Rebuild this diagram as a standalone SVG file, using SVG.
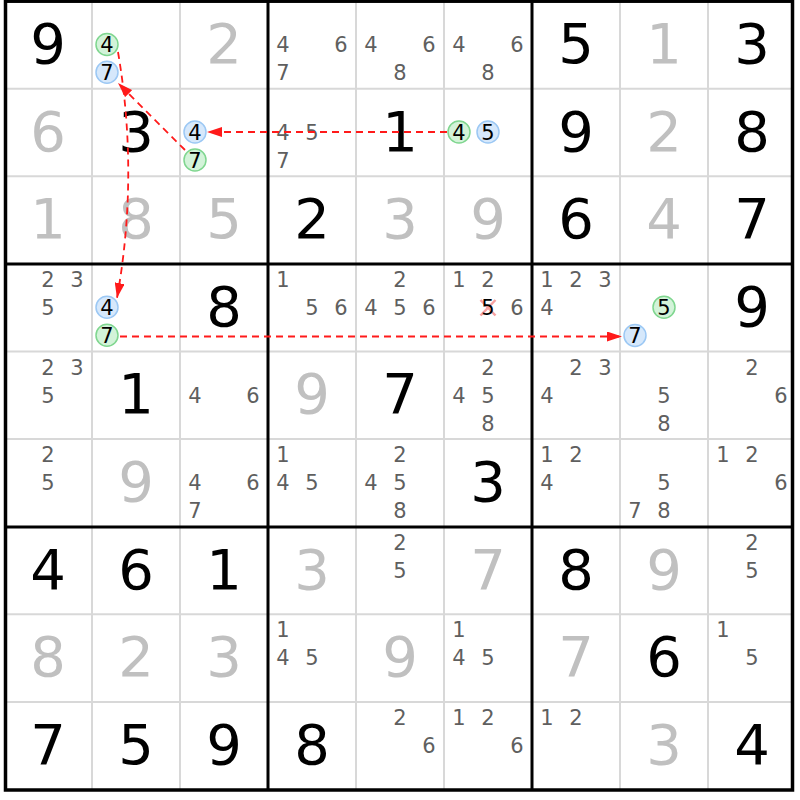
<svg xmlns="http://www.w3.org/2000/svg" width="800" height="800" viewBox="0 0 800 800">
<defs>
<style>
text{font-family:"DejaVu Sans","Liberation Sans",sans-serif;text-anchor:middle}
.b{font-size:56px;fill:#000}
.g{font-size:56px;fill:#c0c0c0}
.p{font-size:21px;fill:#5f5f5f}
.k{font-size:21px;fill:#000}
.thin{stroke:#d8d8d8;stroke-width:2}
.thick{stroke:#000;stroke-width:3}
.cg{fill:#d3f3d9;stroke:#7fd68f;stroke-width:1.5}
.cb{fill:#d6e8fb;stroke:#9cc8f4;stroke-width:1.5}
.ln{fill:none;stroke:#ff1a1a;stroke-width:1.8;stroke-dasharray:7 5}
</style>
<marker id="ah" markerWidth="15" markerHeight="10" refX="15" refY="5" orient="auto" markerUnits="userSpaceOnUse"><path d="M0,0 L15,5 L0,10 z" fill="#ff1a1a"/></marker>
</defs>
<rect width="800" height="800" fill="#fff"/>
<g id="grid">
<g class="thin">
<line x1="92" y1="1" x2="92" y2="790"/><line x1="180" y1="1" x2="180" y2="790"/>
<line x1="356" y1="1" x2="356" y2="790"/><line x1="444" y1="1" x2="444" y2="790"/>
<line x1="620" y1="1" x2="620" y2="790"/><line x1="708" y1="1" x2="708" y2="790"/>
<line x1="5" y1="88.7" x2="793" y2="88.7"/><line x1="5" y1="176.3" x2="793" y2="176.3"/>
<line x1="5" y1="351.5" x2="793" y2="351.5"/><line x1="5" y1="439.1" x2="793" y2="439.1"/>
<line x1="5" y1="614.3" x2="793" y2="614.3"/><line x1="5" y1="701.9" x2="793" y2="701.9"/>
</g>
<g class="thick">
<line x1="268" y1="1" x2="268" y2="790"/><line x1="532" y1="1" x2="532" y2="790"/>
<line x1="5" y1="263.9" x2="793" y2="263.9"/><line x1="5" y1="527.1" x2="793" y2="527.1"/>
</g>
<rect x="5.5" y="1.2" width="787" height="788.8" fill="none" stroke="#000" stroke-width="3.5"/>
</g>
<g id="cells">
<!-- row 0 -->
<g id="r0c0"><text class="b" x="48" y="62.9">9</text></g>
<g id="r0c1"><circle class="cg" cx="107" cy="44.5" r="11"/><text class="k" x="107" y="52">4</text><circle class="cb" cx="107" cy="72.3" r="11"/><text class="k" x="107" y="80">7</text></g>
<g id="r0c2"><text class="g" x="224" y="62.9">2</text></g>
<g id="r0c3"><text class="p" x="283" y="52.2">4</text><text class="p" x="341" y="52.2">6</text><text class="p" x="283" y="80.2">7</text></g>
<g id="r0c4"><text class="p" x="371" y="52.2">4</text><text class="p" x="429" y="52.2">6</text><text class="p" x="400" y="80.2">8</text></g>
<g id="r0c5"><text class="p" x="459" y="52.2">4</text><text class="p" x="517" y="52.2">6</text><text class="p" x="488" y="80.2">8</text></g>
<g id="r0c6"><text class="b" x="576" y="62.9">5</text></g>
<g id="r0c7"><text class="g" x="664" y="62.9">1</text></g>
<g id="r0c8"><text class="b" x="752" y="62.9">3</text></g>
<!-- row 1 -->
<g id="r1c0"><text class="g" x="48" y="150.5">6</text></g>
<g id="r1c1"><text class="b" x="136" y="150.5">3</text></g>
<g id="r1c2"><circle class="cb" cx="195" cy="132" r="11"/><text class="k" x="195" y="139.6">4</text><circle class="cg" cx="195" cy="160" r="11"/><text class="k" x="195" y="167.6">7</text></g>
<g id="r1c3"><text class="p" x="283" y="139.8">4</text><text class="p" x="312" y="139.8">5</text><text class="p" x="283" y="167.8">7</text></g>
<g id="r1c4"><text class="b" x="400" y="150.5">1</text></g>
<g id="r1c5"><circle class="cg" cx="459" cy="132" r="11"/><text class="k" x="459" y="139.6">4</text><circle class="cb" cx="488" cy="132" r="11"/><text class="k" x="488" y="139.6">5</text></g>
<g id="r1c6"><text class="b" x="576" y="150.5">9</text></g>
<g id="r1c7"><text class="g" x="664" y="150.5">2</text></g>
<g id="r1c8"><text class="b" x="752" y="150.5">8</text></g>
<!-- row 2 -->
<g id="r2c0"><text class="g" x="48" y="238.1">1</text></g>
<g id="r2c1"><text class="g" x="136" y="238.1">8</text></g>
<g id="r2c2"><text class="g" x="224" y="238.1">5</text></g>
<g id="r2c3"><text class="b" x="312" y="238.1">2</text></g>
<g id="r2c4"><text class="g" x="400" y="238.1">3</text></g>
<g id="r2c5"><text class="g" x="488" y="238.1">9</text></g>
<g id="r2c6"><text class="b" x="576" y="238.1">6</text></g>
<g id="r2c7"><text class="g" x="664" y="238.1">4</text></g>
<g id="r2c8"><text class="b" x="752" y="238.1">7</text></g>
<!-- row 3 -->
<g id="r3c0"><text class="p" x="48" y="287">2</text><text class="p" x="77" y="287">3</text><text class="p" x="48" y="315">5</text></g>
<g id="r3c1"><circle class="cb" cx="107" cy="307.3" r="11"/><text class="k" x="107" y="314.8">4</text><circle class="cg" cx="107" cy="335.3" r="11"/><text class="k" x="107" y="342.8">7</text></g>
<g id="r3c2"><text class="b" x="224" y="325.7">8</text></g>
<g id="r3c3"><text class="p" x="283" y="287">1</text><text class="p" x="312" y="315">5</text><text class="p" x="341" y="315">6</text></g>
<g id="r3c4"><text class="p" x="400" y="287">2</text><text class="p" x="371" y="315">4</text><text class="p" x="400" y="315">5</text><text class="p" x="429" y="315">6</text></g>
<g id="r3c5"><text class="p" x="459" y="287">1</text><text class="p" x="488" y="287">2</text><g stroke="#f7a0a0" stroke-width="2.5"><line x1="480.5" y1="300" x2="495.5" y2="315.5"/><line x1="495.5" y1="300" x2="480.5" y2="315.5"/></g><text class="k" x="488" y="315">5</text><text class="p" x="517" y="315">6</text></g>
<g id="r3c6"><text class="p" x="547" y="287">1</text><text class="p" x="576" y="287">2</text><text class="p" x="605" y="287">3</text><text class="p" x="547" y="315">4</text></g>
<g id="r3c7"><circle class="cg" cx="664" cy="307.3" r="11"/><text class="k" x="664" y="314.8">5</text><circle class="cb" cx="635" cy="335.5" r="11"/><text class="k" x="635" y="343">7</text></g>
<g id="r3c8"><text class="b" x="752" y="325.7">9</text></g>
<!-- row 4 -->
<g id="r4c0"><text class="p" x="48" y="374.6">2</text><text class="p" x="77" y="374.6">3</text><text class="p" x="48" y="402.6">5</text></g>
<g id="r4c1"><text class="b" x="136" y="413.3">1</text></g>
<g id="r4c2"><text class="p" x="195" y="402.6">4</text><text class="p" x="253" y="402.6">6</text></g>
<g id="r4c3"><text class="g" x="312" y="413.3">9</text></g>
<g id="r4c4"><text class="b" x="400" y="413.3">7</text></g>
<g id="r4c5"><text class="p" x="488" y="374.6">2</text><text class="p" x="459" y="402.6">4</text><text class="p" x="488" y="402.6">5</text><text class="p" x="488" y="430.6">8</text></g>
<g id="r4c6"><text class="p" x="576" y="374.6">2</text><text class="p" x="605" y="374.6">3</text><text class="p" x="547" y="402.6">4</text></g>
<g id="r4c7"><text class="p" x="664" y="402.6">5</text><text class="p" x="664" y="430.6">8</text></g>
<g id="r4c8"><text class="p" x="752" y="374.6">2</text><text class="p" x="781" y="402.6">6</text></g>
<!-- row 5 -->
<g id="r5c0"><text class="p" x="48" y="462.2">2</text><text class="p" x="48" y="490.2">5</text></g>
<g id="r5c1"><text class="g" x="136" y="500.9">9</text></g>
<g id="r5c2"><text class="p" x="195" y="490.2">4</text><text class="p" x="253" y="490.2">6</text><text class="p" x="195" y="518.2">7</text></g>
<g id="r5c3"><text class="p" x="283" y="462.2">1</text><text class="p" x="283" y="490.2">4</text><text class="p" x="312" y="490.2">5</text></g>
<g id="r5c4"><text class="p" x="400" y="462.2">2</text><text class="p" x="371" y="490.2">4</text><text class="p" x="400" y="490.2">5</text><text class="p" x="400" y="518.2">8</text></g>
<g id="r5c5"><text class="b" x="488" y="500.9">3</text></g>
<g id="r5c6"><text class="p" x="547" y="462.2">1</text><text class="p" x="576" y="462.2">2</text><text class="p" x="547" y="490.2">4</text></g>
<g id="r5c7"><text class="p" x="664" y="490.2">5</text><text class="p" x="635" y="518.2">7</text><text class="p" x="664" y="518.2">8</text></g>
<g id="r5c8"><text class="p" x="723" y="462.2">1</text><text class="p" x="752" y="462.2">2</text><text class="p" x="781" y="490.2">6</text></g>
<!-- row 6 -->
<g id="r6c0"><text class="b" x="48" y="588.5">4</text></g>
<g id="r6c1"><text class="b" x="136" y="588.5">6</text></g>
<g id="r6c2"><text class="b" x="224" y="588.5">1</text></g>
<g id="r6c3"><text class="g" x="312" y="588.5">3</text></g>
<g id="r6c4"><text class="p" x="400" y="549.8">2</text><text class="p" x="400" y="577.8">5</text></g>
<g id="r6c5"><text class="g" x="488" y="588.5">7</text></g>
<g id="r6c6"><text class="b" x="576" y="588.5">8</text></g>
<g id="r6c7"><text class="g" x="664" y="588.5">9</text></g>
<g id="r6c8"><text class="p" x="752" y="549.8">2</text><text class="p" x="752" y="577.8">5</text></g>
<!-- row 7 -->
<g id="r7c0"><text class="g" x="48" y="676.1">8</text></g>
<g id="r7c1"><text class="g" x="136" y="676.1">2</text></g>
<g id="r7c2"><text class="g" x="224" y="676.1">3</text></g>
<g id="r7c3"><text class="p" x="283" y="637.4">1</text><text class="p" x="283" y="665.4">4</text><text class="p" x="312" y="665.4">5</text></g>
<g id="r7c4"><text class="g" x="400" y="676.1">9</text></g>
<g id="r7c5"><text class="p" x="459" y="637.4">1</text><text class="p" x="459" y="665.4">4</text><text class="p" x="488" y="665.4">5</text></g>
<g id="r7c6"><text class="g" x="576" y="676.1">7</text></g>
<g id="r7c7"><text class="b" x="664" y="676.1">6</text></g>
<g id="r7c8"><text class="p" x="723" y="637.4">1</text><text class="p" x="752" y="665.4">5</text></g>
<!-- row 8 -->
<g id="r8c0"><text class="b" x="48" y="763.7">7</text></g>
<g id="r8c1"><text class="b" x="136" y="763.7">5</text></g>
<g id="r8c2"><text class="b" x="224" y="763.7">9</text></g>
<g id="r8c3"><text class="b" x="312" y="763.7">8</text></g>
<g id="r8c4"><text class="p" x="400" y="725">2</text><text class="p" x="429" y="753">6</text></g>
<g id="r8c5"><text class="p" x="459" y="725">1</text><text class="p" x="488" y="725">2</text><text class="p" x="517" y="753">6</text></g>
<g id="r8c6"><text class="p" x="547" y="725">1</text><text class="p" x="576" y="725">2</text></g>
<g id="r8c7"><text class="g" x="664" y="763.7">3</text></g>
<g id="r8c8"><text class="b" x="752" y="763.7">4</text></g>
</g>
<g id="connectors">
<line class="ln" x1="447" y1="132" x2="207" y2="132" marker-end="url(#ah)"/>
<line class="ln" x1="185" y1="150" x2="118" y2="83" marker-end="url(#ah)"/>
<path class="ln" d="M118,52 Q139,175 117,298" marker-end="url(#ah)"/>
<line class="ln" x1="120" y1="336.5" x2="622" y2="336.5" marker-end="url(#ah)"/>
</g>
</svg>
